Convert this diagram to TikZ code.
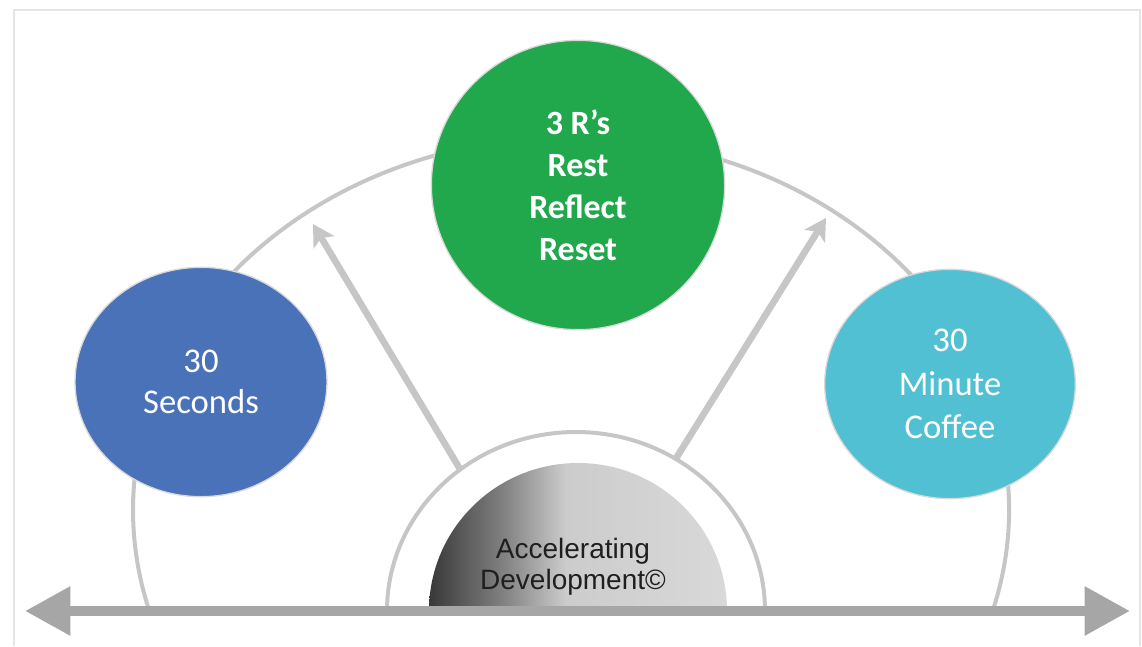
\documentclass[tikz,border=0pt]{standalone}
\usepackage{fontspec}
\setmainfont{Carlito}
\newfontfamily\hubfont{Liberation Sans}
\usetikzlibrary{arrows.meta,shapes.geometric,positioning}
\definecolor{rblue}{HTML}{4A72B8}
\definecolor{rgreen}{HTML}{22A84C}
\definecolor{rcyan}{HTML}{50C0D2}
\definecolor{rimgray}{HTML}{C6C6C6}
\definecolor{axgray}{HTML}{A6A6A6}
\pgfdeclarehorizontalshading{hubshade}{100bp}{color(0bp)=(black!78); color(25bp)=(black!78);
  color(38bp)=(black!48); color(48bp)=(black!20); color(75bp)=(black!15); color(100bp)=(black!15)}
\tikzstyle{bub}=[ellipse, draw=gray!30, line width=1pt, text=white, align=center,
inner sep=0pt, font=\fontsize{26}{31}\selectfont]
\tikzstyle{rim}=[draw=rimgray, line width=3pt]

\begin{document}
\begin{tikzpicture}[x=0.75pt,y=0.75pt]
\tikzset{axis/.style={draw=axgray, line width=7.5pt,
  {Triangle[length=34pt,width=35pt]}-{Triangle[length=34pt,width=35pt]}},
  spoke/.style={draw=rimgray, line width=5pt, -{Stealth[length=16pt,width=18pt,inset=4pt]}}}
\useasboundingbox (0,0) rectangle (1142,-646);
\draw[black!10, line width=1pt] (14,-646) |- (1140,-10) -- (1140,-646);
% rims
\draw[rim] (571,-510) ++(-15.7:438 and 373)
  arc[start angle=-15.7, end angle=195.7, x radius=438, y radius=373];
\draw[rim] (765,-611) arc[start angle=0, end angle=180, x radius=189, y radius=179];
\shade[shading=hubshade] (429,-611) arc[start angle=180, end angle=0, x radius=149, y radius=148] -- cycle;
\node[text=black!88, align=center, font=\hubfont\fontsize{21}{23.5}\selectfont] (hub) at (573,-567)
  {Accelerating\\Development©};

\coordinate (t1) at (460,-469);
\coordinate (h1) at (313,-224);
\coordinate (t2) at (675,-460);
\coordinate (h2) at (826,-218);
\draw[spoke] (t1) -- (h1);
\draw[spoke] (t2) -- (h2);

\node[bub, fill=rblue, minimum width=189pt, minimum height=172pt] (s1) at (201,-382) {30\\Seconds};
\node[bub, fill=rgreen, minimum width=220pt, minimum height=217pt,
  font=\bfseries\fontsize{25.5}{31.5}\selectfont] (s2) at (578,-185) {3 R’s\\Rest\\Reflect\\Reset};
\node[bub, fill=rcyan, minimum width=188pt, minimum height=172pt,
  font=\fontsize{26}{32.5}\selectfont] (s3) at (950,-384) {30\\Minute\\Coffee};

\coordinate (axL) at (25,-611);
\coordinate (axR) at (1130,-611);
\draw[axis] (axL) -- (axR);
\end{tikzpicture}
\end{document}
